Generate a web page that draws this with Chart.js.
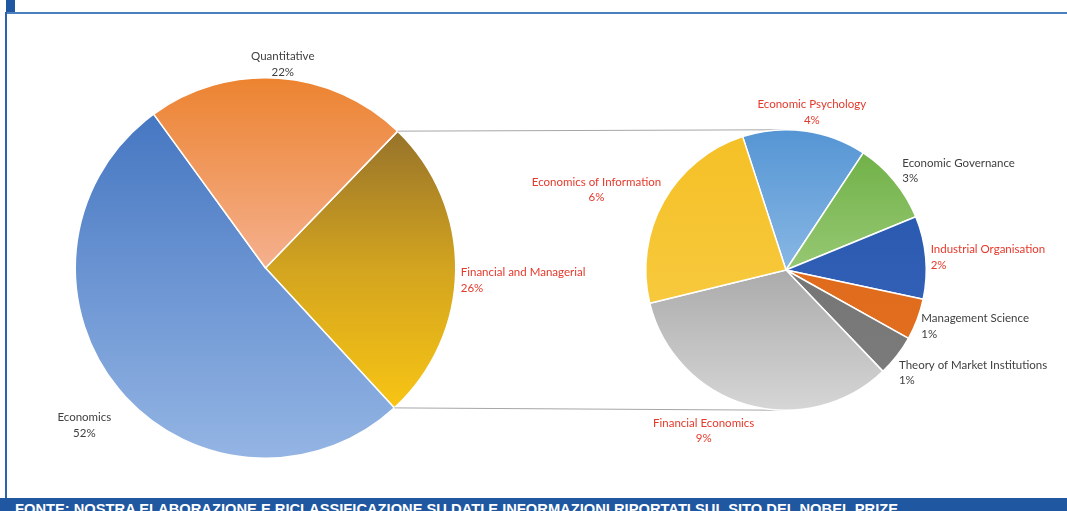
<!DOCTYPE html>
<html><head><meta charset="utf-8">
<script src="https://cdn.jsdelivr.net/npm/chart.js@4.4.1/dist/chart.umd.min.js"></script>
<style>
html,body{margin:0;padding:0;background:#fff;width:1067px;height:511px;overflow:hidden;}
#wrap{position:relative;width:1067px;height:511px;}
canvas{position:absolute;left:0;top:0;}
.topblock{position:absolute;left:6px;top:0;width:9px;height:13px;background:#1f57a0;}
.topline{position:absolute;left:6px;top:12px;width:1061px;height:2px;background:#4a7ebf;}
.leftline{position:absolute;left:5px;top:12px;width:2px;height:486px;background:#2f62ad;}
.band{position:absolute;left:0;top:498px;width:1067px;height:13px;background:#1f57a0;overflow:hidden;}
.band span{position:absolute;left:15px;top:3px;color:#fff;font:bold 14px "Liberation Sans",Arial,sans-serif;white-space:nowrap;transform-origin:0 0;}
</style></head>
<body>
<div id="wrap">
  <div class="topblock"></div>
  <div class="topline"></div>
  <div class="leftline"></div>
  <canvas id="left" width="1067" height="511"></canvas>
  <canvas id="right" width="1067" height="511"></canvas>
  <div class="band"><span id="src">FONTE: NOSTRA ELABORAZIONE E RICLASSIFICAZIONE SU DATI E INFORMAZIONI RIPORTATI SUL SITO DEL NOBEL PRIZE</span></div>
</div>
<script>
// ---- DATA ----
const mainCategories = ['Financial and Managerial', 'Economics', 'Quantitative'];
const mainValues = [21, 42, 18];
const mainPctLabels = ['26%', '52%', '22%'];

const subCategories = ['Economic Psychology', 'Economic Governance', 'Industrial Organisation', 'Management Science', 'Theory of Market Institutions', 'Financial Economics', 'Economics of Information'];
const subValues = [3, 2, 2, 1, 1, 7, 5];
const subPctLabels = ['4%', '3%', '2%', '1%', '1%', '9%', '6%'];

// ---- STYLES ----
const RED = '#e5392b', GREY = '#3f3f3f';
const mainStyles = [
  {stops: [[0, '#93702a'], [0.15, '#98742a'], [0.5, '#d3a41f'], [0.87, '#f8c514'], [1, '#f8c514']], color: RED, align: 'left', dx: 5, dy: 10},
  {stops: [[0, '#4474c0'], [0.1, '#4677c2'], [1, '#94b5e4']], color: GREY, align: 'center', dx: -34, dy: 37},
  {stops: [[0, '#ec8330'], [0.5, '#f5b08e'], [1, '#f5b08e']], color: GREY, align: 'center', dx: 4, dy: -14}
];
const subStyles = [
  {stops: [[0, '#5595d4'], [0.5, '#88b7e4'], [1, '#88b7e4']], color: RED, align: 'center', dx: 7, dy: -19},
  {stops: [[0, '#6aad40'], [0.5, '#96c873'], [1, '#96c873']], color: GREY, align: 'left', dx: 8, dy: -10},
  {stops: [[0, '#2453ab'], [1, '#3a68bd']], color: RED, align: 'left', dx: 5, dy: 0},
  {stops: [[0, '#de661a'], [1, '#e2701f']], color: GREY, align: 'left', dx: 4, dy: 7},
  {stops: [[0, '#6e6e6e'], [1, '#7d7d7d']], color: GREY, align: 'left', dx: 2, dy: 17},
  {stops: [[0, '#a8a8a8'], [0.5, '#ababab'], [1, '#d6d6d6']], color: RED, align: 'center', dx: -43, dy: 26},
  {stops: [[0, '#f5c026'], [1, '#f8ce4a']], color: RED, align: 'center', dx: -67, dy: -12}
];

function gradientFor(styles) {
  return (c) => {
    const chart = c.chart, area = chart.chartArea, st = styles[c.dataIndex];
    if (!area) return st.stops[0][1];
    const g = chart.ctx.createLinearGradient(0, area.top, 0, area.bottom);
    st.stops.forEach(([o, col]) => g.addColorStop(o, col));
    return g;
  };
}

const labelPlugin = {
  id: 'sliceLabels',
  afterDatasetsDraw(chart, args, opts) {
    const ctx = chart.ctx;
    const meta = chart.getDatasetMeta(0);
    ctx.save();
    ctx.font = '11.5px Lato, "Open Sans", sans-serif';
    ctx.textBaseline = 'middle';
    meta.data.forEach((arc, i) => {
      const p = arc.getProps(['x', 'y', 'startAngle', 'endAngle', 'outerRadius'], true);
      const mid = (p.startAngle + p.endAngle) / 2;
      const st = opts.styles[i];
      const ax = p.x + p.outerRadius * Math.cos(mid) + st.dx;
      const ay = p.y + p.outerRadius * Math.sin(mid) + st.dy;
      ctx.fillStyle = st.color;
      ctx.textAlign = st.align;
      ctx.fillText(opts.names[i], ax, ay - 7.8);
      ctx.fillText(opts.pcts[i], ax, ay + 7.8);
    });
    ctx.restore();
  }
};

const common = {
  responsive: false,
  animation: false,
  events: [],
  plugins: {legend: {display: false}, tooltip: {enabled: false}, title: {display: false}}
};

const leftChart = new Chart(document.getElementById('left'), {
  type: 'pie',
  data: {labels: mainCategories, datasets: [{data: mainValues, backgroundColor: gradientFor(mainStyles), borderColor: '#ffffff', borderWidth: 1.5}]},
  options: Object.assign({}, common, {
    rotation: 44,
    layout: {padding: {left: 74, right: 610, top: 77, bottom: 52}},
    plugins: Object.assign({}, common.plugins, {sliceLabels: {styles: mainStyles, names: mainCategories, pcts: mainPctLabels}})
  }),
  plugins: [labelPlugin]
});

const connectorPlugin = {
  id: 'connectors',
  beforeDatasetsDraw(chart) {
    const src = leftChart.getDatasetMeta(0).data[0].getProps(['x', 'y', 'startAngle', 'endAngle', 'outerRadius'], true);
    const dst = chart.getDatasetMeta(0).data[0].getProps(['x', 'y', 'outerRadius'], true);
    const ctx = chart.ctx;
    ctx.save();
    ctx.strokeStyle = '#a6a6a6';
    ctx.lineWidth = 1;
    ctx.beginPath();
    ctx.moveTo(src.x + src.outerRadius * Math.cos(src.startAngle), src.y + src.outerRadius * Math.sin(src.startAngle));
    ctx.lineTo(dst.x, dst.y - dst.outerRadius);
    ctx.moveTo(src.x + src.outerRadius * Math.cos(src.endAngle), src.y + src.outerRadius * Math.sin(src.endAngle));
    ctx.lineTo(dst.x, dst.y + dst.outerRadius);
    ctx.stroke();
    ctx.restore();
  }
};

new Chart(document.getElementById('right'), {
  type: 'pie',
  data: {labels: subCategories, datasets: [{data: subValues, backgroundColor: gradientFor(subStyles), borderColor: '#ffffff', borderWidth: 1.5}]},
  options: Object.assign({}, common, {
    rotation: -18,
    layout: {padding: {left: 645, right: 140, top: 129, bottom: 100}},
    plugins: Object.assign({}, common.plugins, {sliceLabels: {styles: subStyles, names: subCategories, pcts: subPctLabels}})
  }),
  plugins: [connectorPlugin, labelPlugin]
});

// fit source line width
const s = document.getElementById('src');
const w = s.getBoundingClientRect().width;
s.style.transform = 'scaleX(' + (883 / w) + ')';
</script>
</body></html>
